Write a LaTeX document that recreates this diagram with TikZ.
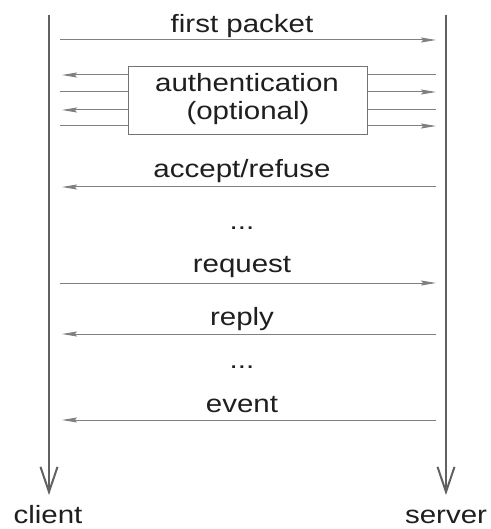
\documentclass[tikz,border=0pt]{standalone}
\usepackage{fontspec}
\setmainfont{Liberation Sans}
\newfontfamily\lblfont[FakeStretch=1.18]{Liberation Sans}
\usetikzlibrary{arrows.meta}
\begin{document}
\begin{tikzpicture}[x=1pt,y=-1pt,
  lifeline/.style={line width=2pt, draw=black!62, -{Straight Barb[length=25pt,width=17pt,line width=2pt]}},
  msg/.style={line width=1pt, draw=black!50, -{Stealth[length=15pt,width=5pt,inset=2pt]}},
  plainmsg/.style={line width=1pt, draw=black!50},
  lbl/.style={font=\lblfont\fontsize{25}{28}\selectfont, text=black!88, inner sep=0pt, anchor=base},
  authbox/.style={draw=black!55, line width=1pt, minimum width=239pt, minimum height=68pt, inner sep=0pt},
]
\useasboundingbox[fill=white] (0,0) rectangle (490,529);

% lifelines
\coordinate (ctop) at (49,15);
\coordinate (cbot) at (49,495);
\coordinate (stop) at (446,15);
\coordinate (sbot) at (446,495);
\draw[lifeline] (ctop) -- (cbot);
\draw[lifeline] (stop) -- (sbot);
\node[lbl] (client) at (48,523) {client};
\node[lbl] (server) at (446,523) {server};

% first packet
\coordinate (c1) at (60,40);  \coordinate (s1) at (436,40);
\draw[msg] (c1) -- (s1);
\node[lbl] (l1) at (242,33) {first packet};

% authentication box
\node[authbox] (auth) at (247.5,101) {};
\node[lbl] (la) at (247,92) {authentication};
\node[lbl] (lb) at (248,120) {(optional)};
\coordinate (ca) at (62,75);  \coordinate (sa) at (436,75);
\coordinate (cb) at (60,92);  \coordinate (sb) at (436,92);
\coordinate (cc) at (62,110); \coordinate (sc) at (436,110);
\coordinate (cd) at (60,126); \coordinate (sd) at (436,126);
\draw[msg] (auth.west |- ca) -- (ca);
\draw[plainmsg] (auth.west |- cb) -- (cb);
\draw[msg] (auth.west |- cc) -- (cc);
\draw[plainmsg] (auth.west |- cd) -- (cd);
\draw[plainmsg] (auth.east |- sa) -- (sa);
\draw[msg] (auth.east |- sb) -- (sb);
\draw[plainmsg] (auth.east |- sc) -- (sc);
\draw[msg] (auth.east |- sd) -- (sd);

% accept/refuse
\coordinate (s2) at (436,187); \coordinate (c2) at (62,187);
\draw[msg] (s2) -- (c2);
\node[lbl] (l2) at (242,178) {accept/refuse};

\node[lbl] (d1) at (242,229) {...};

% request
\coordinate (c3) at (60,283); \coordinate (s3) at (436,283);
\draw[msg] (c3) -- (s3);
\node[lbl] (l3) at (242,272) {request};

% reply
\coordinate (s4) at (436,334); \coordinate (c4) at (62,334);
\draw[msg] (s4) -- (c4);
\node[lbl] (l4) at (242,325) {reply};

\node[lbl] (d2) at (242,368) {...};

% event
\coordinate (s5) at (436,420); \coordinate (c5) at (62,420);
\draw[msg] (s5) -- (c5);
\node[lbl] (l5) at (242,412) {event};
\end{tikzpicture}
\end{document}
